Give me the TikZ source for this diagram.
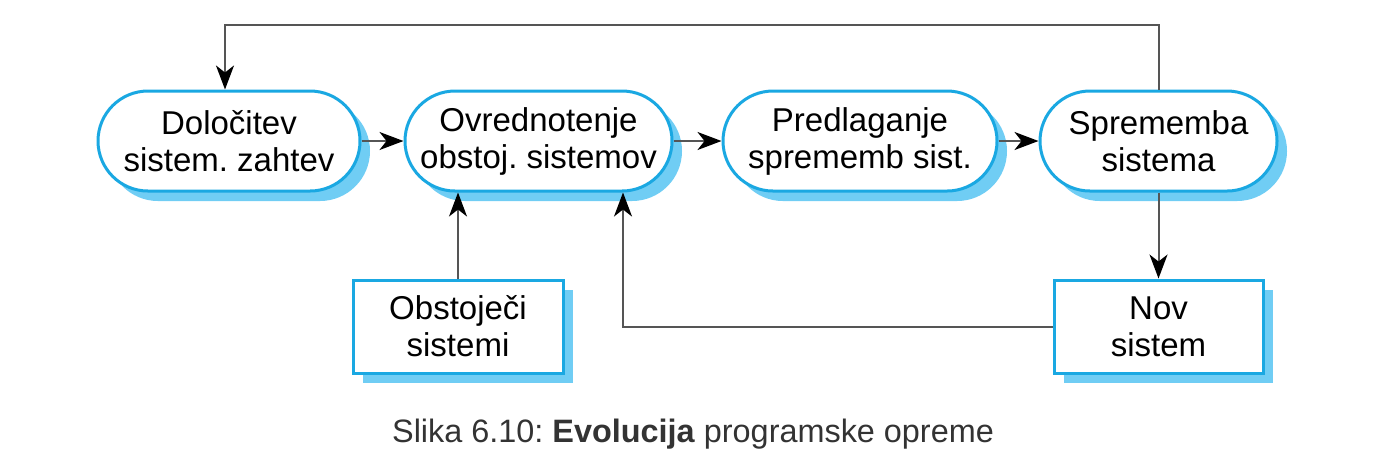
\documentclass[tikz,border=0pt]{standalone}
\usepackage{fontspec}
\setmainfont{Liberation Sans}
\frenchspacing
\usetikzlibrary{arrows.meta,shadows}
\definecolor{edgeblue}{HTML}{1AA8E2}
\definecolor{shadowblue}{HTML}{70CDF4}
\definecolor{linegray}{HTML}{555555}
\definecolor{captgray}{HTML}{333333}
\tikzset{
  basebox/.style={draw=edgeblue, line width=1.5pt, fill=white, align=center,
    font=\fontsize{16.5}{18.5}\selectfont, text=black, inner sep=0pt,
    general shadow={shadow xshift=5pt, shadow yshift=-5pt, fill=shadowblue}},
  roundbox/.style={basebox, rounded corners=25pt, minimum height=50pt},
  rectbox/.style={basebox, minimum height=46.5pt, minimum width=104.5pt},
  arr/.style={draw=linegray, line width=1pt, -{Stealth[length=12pt,width=9pt,inset=3.5pt,color=black]}},
}
\begin{document}
\begin{tikzpicture}[x=0.5pt,y=-0.5pt]
\useasboundingbox (0,0) rectangle (1400,463);
\node[roundbox, minimum width=131pt] (b1) at (229,141) {Določitev\\sistem. zahtev};
\node[roundbox, minimum width=133.5pt] (b2) at (538.5,141) {Ovrednotenje\\obstoj. sistemov};
\node[roundbox, minimum width=137pt] (b3) at (860,141) {Predlaganje\\sprememb sist.};
\node[roundbox, minimum width=118.5pt] (b4) at (1158.5,141) {Sprememba\\sistema};
\node[rectbox, minimum width=105pt] (o1) at (458,326.5) {Obstoječi\\sistemi};
\node[rectbox] (n2) at (1158.5,326.5) {Nov\\sistem};
\coordinate (top) at (700,25);
\draw[arr] (b1.east) -- (b2.west);
\draw[arr] (b2.east) -- (b3.west);
\draw[arr] (b3.east) -- (b4.west);
\draw[arr] (b4.north) |- (top) -| ([xshift=-2pt]b1.north);
\draw[arr] (b4.south) -- (n2.north);
\draw[arr] (o1.north) -- (o1.north |- b2.south);
\draw[arr] (n2.west) -| ([xshift=42.25pt]b2.south);
\node[text=captgray, font=\fontsize{16.2}{18}\selectfont, anchor=base] (cap) at (693,442) {Slika 6.10: \textbf{Evolucija} programske opreme};
\end{tikzpicture}
\end{document}
